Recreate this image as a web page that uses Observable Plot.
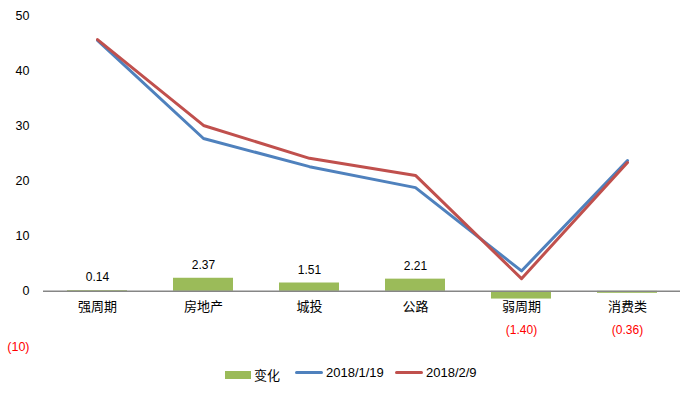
<!DOCTYPE html>
<html>
<head>
<meta charset="utf-8">
<script src="https://cdn.jsdelivr.net/npm/d3@7"></script>
<script src="https://cdn.jsdelivr.net/npm/@observablehq/plot@0.6"></script>
<style>
  body { margin: 0; background: #fff; }
  #wrap { position: relative; width: 696px; height: 393px; font-family: "Liberation Sans", "Noto Sans CJK SC", sans-serif; }
  .lg { position: absolute; top: 365px; font-size: 13px; color: #000; display: flex; align-items: center; }
  .sw { display: inline-block; margin-right: 3px; }
</style>
</head>
<body>
<div id="wrap">
  <div id="chart"></div>
  <div class="lg" style="left:225px"><span class="sw" style="width:26px;height:8px;background:#9BBB59"></span><span style="font-family:'Noto Sans CJK SC'">变化</span></div>
  <div class="lg" style="left:295px"><span class="sw" style="width:28px;height:3px;background:#4F81BD;border-radius:2px"></span>2018/1/19</div>
  <div class="lg" style="left:395px"><span class="sw" style="width:28px;height:3px;background:#C0504D;border-radius:2px"></span>2018/2/9</div>
</div>
<script>
const categories = ["强周期", "房地产", "城投", "公路", "弱周期", "消费类"];
const change = [0.14, 2.37, 1.51, 2.21, -1.40, -0.36];
const jan19 = [45.5, 27.7, 22.6, 18.8, 3.7, 23.7];
const feb9 = [45.64, 30.07, 24.11, 21.01, 2.3, 23.34];
const yTicks = [-10, 0, 10, 20, 30, 40, 50];

const rows = categories.map((c, i) => ({cat: c, change: change[i], jan: jan19[i], feb: feb9[i]}));
const fmt = v => v < 0 ? `(${Math.abs(v).toFixed(2)})` : v.toFixed(2);
const fmtTick = v => v < 0 ? `(${Math.abs(v)})` : `${v}`;

const chart = Plot.plot({
  width: 696,
  height: 360,
  marginLeft: 43,
  marginRight: 16,
  marginTop: 15,
  marginBottom: 14,
  style: {fontFamily: "'Liberation Sans', 'Noto Sans CJK SC', sans-serif", fontSize: "12px", background: "transparent"},
  x: {type: "band", domain: categories, padding: 0, axis: null},
  y: {domain: [-10, 50], axis: null},
  marks: [
    Plot.barY(rows, {x: "cat", y: "change", fill: "#9BBB59", insetLeft: 23, insetRight: 23}),
    Plot.ruleY([0], {stroke: "#868686", strokeWidth: 1.5}),
    Plot.line(rows, {x: "cat", y: "jan", stroke: "#4F81BD", strokeWidth: 3}),
    Plot.line(rows, {x: "cat", y: "feb", stroke: "#C0504D", strokeWidth: 3}),
    Plot.text(yTicks, {y: d => d, text: fmtTick, frameAnchor: "left", textAnchor: "end", dx: -14, fill: d => d < 0 ? "#FF0000" : "#000", fontSize: 12.5}),
    Plot.text(rows, {x: "cat", y: 0, text: "cat", dy: 15, fill: "#000", fontSize: 13, fontFamily: "'Noto Sans CJK SC', sans-serif"}),
    Plot.text(rows.filter(d => d.change >= 0), {x: "cat", y: "change", text: d => fmt(d.change), dy: -13, fill: "#000", fontSize: 12}),
    Plot.text(rows.filter(d => d.change < 0), {x: "cat", y: 0, text: d => fmt(d.change), dy: 39, fill: "#FF0000", fontSize: 12})
  ]
});
document.getElementById("chart").appendChild(chart);
</script>
</body>
</html>
